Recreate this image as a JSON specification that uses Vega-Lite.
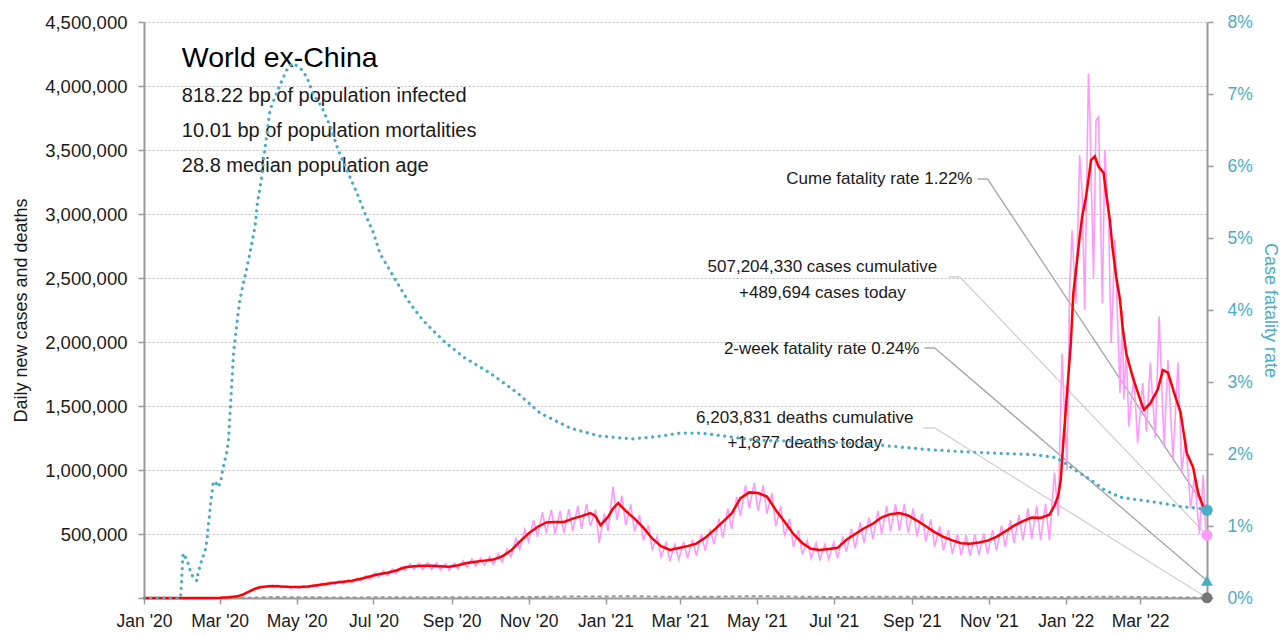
{
  "$schema": "https://vega.github.io/schema/vega-lite/v6.json",
  "width": 1063,
  "height": 576,
  "autosize": {"type": "none"},
  "padding": {"left": 144, "top": 22, "right": 79, "bottom": 39},
  "background": "white",
  "config": {
    "view": {"stroke": null},
    "font": "Liberation Sans",
    "axis": {
      "labelFont": "Liberation Sans",
      "titleFont": "Liberation Sans",
      "labelFontSize": 17.5,
      "titleFontSize": 18,
      "titleFontWeight": "normal",
      "domainColor": "#9a9a9a",
      "domainWidth": 2,
      "tickColor": "#9a9a9a",
      "tickWidth": 1.5,
      "tickSize": 6,
      "labelColor": "#1a1a1a",
      "titleColor": "#1a1a1a"
    }
  },
  "datasets": {
    "pink": [
      {"d":"2020-01-22","v":0},{"d":"2020-02-27","v":600},{"d":"2020-03-01","v":1500},{"d":"2020-03-05","v":3000},
      {"d":"2020-03-08","v":4000},{"d":"2020-03-12","v":10000},{"d":"2020-03-15","v":12000},{"d":"2020-03-19","v":28000},
      {"d":"2020-03-22","v":38000},{"d":"2020-03-26","v":62000},{"d":"2020-03-29","v":68000},{"d":"2020-04-02","v":90000},
      {"d":"2020-04-05","v":80000},{"d":"2020-04-09","v":98000},{"d":"2020-04-12","v":84000},{"d":"2020-04-16","v":100000},
      {"d":"2020-04-19","v":80000},{"d":"2020-04-23","v":95000},{"d":"2020-04-26","v":78000},{"d":"2020-04-30","v":92000},
      {"d":"2020-05-03","v":76000},{"d":"2020-05-07","v":95000},{"d":"2020-05-10","v":80000},{"d":"2020-05-14","v":100000},
      {"d":"2020-05-17","v":88000},{"d":"2020-05-21","v":115000},{"d":"2020-05-24","v":98000},{"d":"2020-05-28","v":125000},
      {"d":"2020-05-31","v":106000},{"d":"2020-06-04","v":135000},{"d":"2020-06-07","v":112000},{"d":"2020-06-11","v":142000},
      {"d":"2020-06-14","v":120000},{"d":"2020-06-18","v":156000},{"d":"2020-06-21","v":133000},{"d":"2020-06-25","v":175000},
      {"d":"2020-06-28","v":148000},{"d":"2020-07-02","v":195000},{"d":"2020-07-05","v":163000},{"d":"2020-07-09","v":212000},
      {"d":"2020-07-12","v":175000},{"d":"2020-07-16","v":226000},{"d":"2020-07-19","v":192000},{"d":"2020-07-23","v":245000},
      {"d":"2020-07-26","v":214000},{"d":"2020-07-30","v":268000},{"d":"2020-08-02","v":222000},{"d":"2020-08-06","v":272000},
      {"d":"2020-08-09","v":222000},{"d":"2020-08-13","v":276000},{"d":"2020-08-16","v":222000},{"d":"2020-08-20","v":274000},
      {"d":"2020-08-23","v":220000},{"d":"2020-08-27","v":268000},{"d":"2020-08-30","v":215000},{"d":"2020-09-03","v":272000},
      {"d":"2020-09-06","v":226000},{"d":"2020-09-10","v":290000},{"d":"2020-09-13","v":240000},{"d":"2020-09-17","v":305000},
      {"d":"2020-09-20","v":250000},{"d":"2020-09-24","v":312000},{"d":"2020-09-27","v":256000},{"d":"2020-10-01","v":322000},
      {"d":"2020-10-04","v":262000},{"d":"2020-10-08","v":345000},{"d":"2020-10-11","v":282000},{"d":"2020-10-15","v":385000},
      {"d":"2020-10-18","v":320000},{"d":"2020-10-22","v":465000},{"d":"2020-10-25","v":380000},{"d":"2020-10-29","v":535000},
      {"d":"2020-11-01","v":440000},{"d":"2020-11-05","v":610000},{"d":"2020-11-08","v":480000},{"d":"2020-11-12","v":670000},
      {"d":"2020-11-15","v":505000},{"d":"2020-11-19","v":690000},{"d":"2020-11-22","v":500000},{"d":"2020-11-26","v":680000},
      {"d":"2020-11-29","v":505000},{"d":"2020-12-03","v":695000},{"d":"2020-12-06","v":520000},{"d":"2020-12-10","v":720000},
      {"d":"2020-12-13","v":540000},{"d":"2020-12-17","v":735000},{"d":"2020-12-20","v":560000},{"d":"2020-12-24","v":690000},
      {"d":"2020-12-27","v":430000},{"d":"2020-12-31","v":660000},{"d":"2021-01-03","v":520000},{"d":"2021-01-07","v":870000},
      {"d":"2021-01-10","v":610000},{"d":"2021-01-14","v":800000},{"d":"2021-01-17","v":570000},{"d":"2021-01-21","v":730000},
      {"d":"2021-01-24","v":520000},{"d":"2021-01-28","v":650000},{"d":"2021-01-31","v":450000},{"d":"2021-02-04","v":570000},
      {"d":"2021-02-07","v":380000},{"d":"2021-02-11","v":480000},{"d":"2021-02-14","v":320000},{"d":"2021-02-18","v":430000},
      {"d":"2021-02-21","v":290000},{"d":"2021-02-25","v":420000},{"d":"2021-02-28","v":300000},{"d":"2021-03-04","v":440000},
      {"d":"2021-03-07","v":310000},{"d":"2021-03-11","v":455000},{"d":"2021-03-14","v":330000},{"d":"2021-03-18","v":500000},
      {"d":"2021-03-21","v":370000},{"d":"2021-03-25","v":540000},{"d":"2021-03-28","v":420000},{"d":"2021-04-01","v":620000},
      {"d":"2021-04-04","v":470000},{"d":"2021-04-08","v":700000},{"d":"2021-04-11","v":540000},{"d":"2021-04-15","v":790000},
      {"d":"2021-04-18","v":640000},{"d":"2021-04-22","v":880000},{"d":"2021-04-25","v":700000},{"d":"2021-04-29","v":900000},
      {"d":"2021-05-02","v":680000},{"d":"2021-05-06","v":880000},{"d":"2021-05-09","v":660000},{"d":"2021-05-13","v":820000},
      {"d":"2021-05-16","v":560000},{"d":"2021-05-20","v":720000},{"d":"2021-05-23","v":480000},{"d":"2021-05-27","v":620000},
      {"d":"2021-05-30","v":400000},{"d":"2021-06-03","v":530000},{"d":"2021-06-06","v":340000},{"d":"2021-06-10","v":450000},
      {"d":"2021-06-13","v":310000},{"d":"2021-06-17","v":430000},{"d":"2021-06-20","v":300000},{"d":"2021-06-24","v":420000},
      {"d":"2021-06-27","v":305000},{"d":"2021-07-01","v":435000},{"d":"2021-07-04","v":310000},{"d":"2021-07-08","v":480000},
      {"d":"2021-07-11","v":360000},{"d":"2021-07-15","v":540000},{"d":"2021-07-18","v":390000},{"d":"2021-07-22","v":590000},
      {"d":"2021-07-25","v":430000},{"d":"2021-07-29","v":630000},{"d":"2021-08-01","v":460000},{"d":"2021-08-05","v":680000},
      {"d":"2021-08-08","v":500000},{"d":"2021-08-12","v":720000},{"d":"2021-08-15","v":520000},{"d":"2021-08-19","v":735000},
      {"d":"2021-08-22","v":525000},{"d":"2021-08-26","v":735000},{"d":"2021-08-29","v":510000},{"d":"2021-09-02","v":700000},
      {"d":"2021-09-05","v":480000},{"d":"2021-09-09","v":660000},{"d":"2021-09-12","v":440000},{"d":"2021-09-16","v":615000},
      {"d":"2021-09-19","v":400000},{"d":"2021-09-23","v":560000},{"d":"2021-09-26","v":370000},{"d":"2021-09-30","v":530000},
      {"d":"2021-10-03","v":345000},{"d":"2021-10-07","v":500000},{"d":"2021-10-10","v":335000},{"d":"2021-10-14","v":490000},
      {"d":"2021-10-17","v":330000},{"d":"2021-10-21","v":495000},{"d":"2021-10-24","v":335000},{"d":"2021-10-28","v":505000},
      {"d":"2021-10-31","v":345000},{"d":"2021-11-04","v":530000},{"d":"2021-11-07","v":370000},{"d":"2021-11-11","v":565000},
      {"d":"2021-11-14","v":400000},{"d":"2021-11-18","v":610000},{"d":"2021-11-21","v":430000},{"d":"2021-11-25","v":650000},
      {"d":"2021-11-28","v":450000},{"d":"2021-12-02","v":700000},{"d":"2021-12-05","v":460000},{"d":"2021-12-09","v":720000},
      {"d":"2021-12-12","v":450000},{"d":"2021-12-16","v":735000},{"d":"2021-12-19","v":450000},{"d":"2021-12-23","v":980000},
      {"d":"2021-12-26","v":640000},{"d":"2021-12-29","v":1910000},{"d":"2022-01-02","v":1000000},{"d":"2022-01-04","v":2400000},
      {"d":"2022-01-06","v":2870000},{"d":"2022-01-09","v":2300000},{"d":"2022-01-12","v":3460000},{"d":"2022-01-14","v":3160000},
      {"d":"2022-01-16","v":2250000},{"d":"2022-01-19","v":4100000},{"d":"2022-01-20","v":3800000},{"d":"2022-01-23","v":2500000},
      {"d":"2022-01-25","v":3730000},{"d":"2022-01-27","v":3760000},{"d":"2022-01-30","v":2300000},{"d":"2022-02-01","v":3500000},
      {"d":"2022-02-04","v":2930000},{"d":"2022-02-06","v":1990000},{"d":"2022-02-09","v":2800000},{"d":"2022-02-13","v":1600000},
      {"d":"2022-02-15","v":2250000},{"d":"2022-02-16","v":1550000},{"d":"2022-02-18","v":1940000},{"d":"2022-02-20","v":1340000},
      {"d":"2022-02-24","v":1740000},{"d":"2022-02-27","v":1210000},{"d":"2022-03-03","v":1680000},{"d":"2022-03-06","v":1300000},
      {"d":"2022-03-09","v":1840000},{"d":"2022-03-13","v":1250000},{"d":"2022-03-16","v":2200000},{"d":"2022-03-20","v":1180000},
      {"d":"2022-03-23","v":1860000},{"d":"2022-03-27","v":1080000},{"d":"2022-03-31","v":1840000},{"d":"2022-04-03","v":980000},
      {"d":"2022-04-06","v":1250000},{"d":"2022-04-10","v":700000},{"d":"2022-04-13","v":950000},{"d":"2022-04-17","v":500000},
      {"d":"2022-04-20","v":960000},{"d":"2022-04-22","v":520000},{"d":"2022-04-23","v":489694}
    ],
    "red": [
      {"d":"2020-01-01","v":0},{"d":"2020-02-16","v":300},{"d":"2020-03-01","v":2000},{"d":"2020-03-08","v":5000},
      {"d":"2020-03-15","v":13000},{"d":"2020-03-19","v":25000},{"d":"2020-03-22","v":40000},{"d":"2020-03-26","v":58000},
      {"d":"2020-03-29","v":72000},{"d":"2020-04-02","v":84000},{"d":"2020-04-05","v":88000},{"d":"2020-04-12","v":94000},
      {"d":"2020-04-19","v":90000},{"d":"2020-04-26","v":86000},{"d":"2020-05-03","v":86000},{"d":"2020-05-10","v":90000},
      {"d":"2020-05-17","v":100000},{"d":"2020-05-24","v":110000},{"d":"2020-05-31","v":120000},{"d":"2020-06-07","v":127000},
      {"d":"2020-06-14","v":135000},{"d":"2020-06-21","v":150000},{"d":"2020-06-28","v":168000},{"d":"2020-07-05","v":185000},
      {"d":"2020-07-12","v":198000},{"d":"2020-07-19","v":215000},{"d":"2020-07-26","v":240000},{"d":"2020-08-02","v":248000},
      {"d":"2020-08-09","v":251000},{"d":"2020-08-16","v":252000},{"d":"2020-08-23","v":249000},{"d":"2020-08-30","v":245000},
      {"d":"2020-09-06","v":256000},{"d":"2020-09-13","v":273000},{"d":"2020-09-20","v":283000},{"d":"2020-09-27","v":292000},
      {"d":"2020-10-04","v":300000},{"d":"2020-10-11","v":325000},{"d":"2020-10-18","v":370000},{"d":"2020-10-25","v":440000},
      {"d":"2020-11-01","v":505000},{"d":"2020-11-08","v":555000},{"d":"2020-11-15","v":590000},{"d":"2020-11-22","v":594000},
      {"d":"2020-11-29","v":594000},{"d":"2020-12-06","v":620000},{"d":"2020-12-13","v":640000},{"d":"2020-12-20","v":664000},
      {"d":"2020-12-24","v":640000},{"d":"2020-12-28","v":570000},{"d":"2021-01-03","v":633000},{"d":"2021-01-07","v":700000},
      {"d":"2021-01-11","v":742000},{"d":"2021-01-17","v":680000},{"d":"2021-01-24","v":620000},{"d":"2021-01-31","v":550000},
      {"d":"2021-02-07","v":465000},{"d":"2021-02-14","v":405000},{"d":"2021-02-21","v":375000},{"d":"2021-02-28","v":391000},
      {"d":"2021-03-07","v":405000},{"d":"2021-03-14","v":425000},{"d":"2021-03-21","v":470000},{"d":"2021-03-28","v":530000},
      {"d":"2021-04-04","v":595000},{"d":"2021-04-11","v":660000},{"d":"2021-04-18","v":780000},{"d":"2021-04-25","v":825000},
      {"d":"2021-05-02","v":820000},{"d":"2021-05-09","v":792000},{"d":"2021-05-16","v":688000},{"d":"2021-05-23","v":595000},
      {"d":"2021-05-30","v":500000},{"d":"2021-06-06","v":430000},{"d":"2021-06-13","v":385000},{"d":"2021-06-20","v":375000},
      {"d":"2021-06-27","v":383000},{"d":"2021-07-04","v":392000},{"d":"2021-07-11","v":455000},{"d":"2021-07-18","v":500000},
      {"d":"2021-07-25","v":545000},{"d":"2021-08-01","v":580000},{"d":"2021-08-08","v":630000},{"d":"2021-08-15","v":655000},
      {"d":"2021-08-22","v":664000},{"d":"2021-08-29","v":645000},{"d":"2021-09-05","v":605000},{"d":"2021-09-12","v":560000},
      {"d":"2021-09-19","v":515000},{"d":"2021-09-26","v":478000},{"d":"2021-10-03","v":450000},{"d":"2021-10-10","v":428000},
      {"d":"2021-10-17","v":423000},{"d":"2021-10-24","v":434000},{"d":"2021-10-31","v":448000},{"d":"2021-11-07","v":478000},
      {"d":"2021-11-14","v":520000},{"d":"2021-11-21","v":565000},{"d":"2021-11-28","v":600000},{"d":"2021-12-05","v":628000},
      {"d":"2021-12-12","v":626000},{"d":"2021-12-19","v":650000},{"d":"2021-12-23","v":720000},{"d":"2021-12-26","v":800000},
      {"d":"2021-12-28","v":922000},{"d":"2021-12-30","v":1210000},{"d":"2022-01-02","v":1600000},{"d":"2022-01-05","v":1990000},
      {"d":"2022-01-07","v":2380000},{"d":"2022-01-10","v":2640000},{"d":"2022-01-12","v":2820000},{"d":"2022-01-14","v":2980000},
      {"d":"2022-01-17","v":3130000},{"d":"2022-01-19","v":3270000},{"d":"2022-01-21","v":3420000},{"d":"2022-01-24","v":3450000},
      {"d":"2022-01-27","v":3370000},{"d":"2022-01-31","v":3320000},{"d":"2022-02-02","v":3160000},{"d":"2022-02-05","v":2950000},
      {"d":"2022-02-07","v":2740000},{"d":"2022-02-10","v":2510000},{"d":"2022-02-13","v":2330000},{"d":"2022-02-15","v":2120000},
      {"d":"2022-02-18","v":1910000},{"d":"2022-02-23","v":1730000},{"d":"2022-03-01","v":1550000},{"d":"2022-03-04","v":1470000},
      {"d":"2022-03-09","v":1520000},{"d":"2022-03-15","v":1630000},{"d":"2022-03-19","v":1780000},{"d":"2022-03-23","v":1760000},
      {"d":"2022-03-28","v":1600000},{"d":"2022-04-02","v":1450000},{"d":"2022-04-07","v":1130000},{"d":"2022-04-12","v":1020000},
      {"d":"2022-04-16","v":820000},{"d":"2022-04-20","v":711000},{"d":"2022-04-23","v":700000}
    ],
    "deaths": [
      {"d":"2020-03-01","v":100},{"d":"2020-03-15","v":800},{"d":"2020-04-01","v":4500},{"d":"2020-04-15","v":7500},
      {"d":"2020-05-01","v":6000},{"d":"2020-06-01","v":4500},{"d":"2020-07-01","v":5000},{"d":"2020-08-01","v":5900},
      {"d":"2020-09-01","v":5600},{"d":"2020-10-01","v":5500},{"d":"2020-11-01","v":7500},{"d":"2020-12-01","v":11000},
      {"d":"2021-01-01","v":12000},{"d":"2021-01-25","v":14500},{"d":"2021-02-15","v":10000},{"d":"2021-03-15","v":9000},
      {"d":"2021-04-15","v":12500},{"d":"2021-05-10","v":13500},{"d":"2021-06-01","v":10500},{"d":"2021-07-01","v":7800},
      {"d":"2021-08-01","v":9000},{"d":"2021-08-25","v":10200},{"d":"2021-10-01","v":7500},{"d":"2021-11-01","v":7000},
      {"d":"2021-12-01","v":7000},{"d":"2022-01-01","v":6500},{"d":"2022-02-05","v":10500},{"d":"2022-03-01","v":7500},
      {"d":"2022-04-01","v":4000},{"d":"2022-04-23","v":1877}
    ],
    "cfr": [
      {"d":"2020-01-01","r":0},{"d":"2020-01-30","r":0},{"d":"2020-02-01","r":0.0062},{"d":"2020-02-04","r":0.0053},
      {"d":"2020-02-06","r":0.0043},{"d":"2020-02-07","r":0.0035},{"d":"2020-02-10","r":0.0026},{"d":"2020-02-12","r":0.0024},
      {"d":"2020-02-13","r":0.0037},{"d":"2020-02-15","r":0.0046},{"d":"2020-02-16","r":0.0056},{"d":"2020-02-18","r":0.0061},
      {"d":"2020-02-20","r":0.008},{"d":"2020-02-21","r":0.0101},{"d":"2020-02-22","r":0.0115},{"d":"2020-02-23","r":0.0136},
      {"d":"2020-02-24","r":0.0146},{"d":"2020-02-25","r":0.0162},{"d":"2020-02-27","r":0.016},{"d":"2020-02-29","r":0.0154},
      {"d":"2020-03-02","r":0.0164},{"d":"2020-03-03","r":0.0174},{"d":"2020-03-04","r":0.0183},{"d":"2020-03-06","r":0.0197},
      {"d":"2020-03-07","r":0.0205},{"d":"2020-03-08","r":0.0219},{"d":"2020-03-09","r":0.025},{"d":"2020-03-10","r":0.028},
      {"d":"2020-03-12","r":0.034},{"d":"2020-03-15","r":0.0386},{"d":"2020-03-17","r":0.0414},{"d":"2020-03-21","r":0.0446},
      {"d":"2020-03-25","r":0.0479},{"d":"2020-03-29","r":0.0515},{"d":"2020-03-31","r":0.0549},{"d":"2020-04-03","r":0.058},
      {"d":"2020-04-06","r":0.0626},{"d":"2020-04-10","r":0.0678},{"d":"2020-04-14","r":0.0696},{"d":"2020-04-18","r":0.0713},
      {"d":"2020-04-23","r":0.0733},{"d":"2020-04-28","r":0.0743},{"d":"2020-05-04","r":0.0736},{"d":"2020-05-09","r":0.0724},
      {"d":"2020-05-14","r":0.0701},{"d":"2020-05-21","r":0.0682},{"d":"2020-05-28","r":0.0654},{"d":"2020-06-03","r":0.0622},
      {"d":"2020-06-10","r":0.0594},{"d":"2020-06-18","r":0.0562},{"d":"2020-06-24","r":0.0535},{"d":"2020-07-01","r":0.0507},
      {"d":"2020-07-06","r":0.0479},{"d":"2020-07-17","r":0.0446},{"d":"2020-07-28","r":0.0414},{"d":"2020-08-09","r":0.0386},
      {"d":"2020-08-25","r":0.0358},{"d":"2020-09-10","r":0.0335},{"d":"2020-10-01","r":0.0313},{"d":"2020-10-23","r":0.0285},
      {"d":"2020-11-10","r":0.0257},{"d":"2020-12-04","r":0.0236},{"d":"2020-12-27","r":0.0225},{"d":"2021-01-22","r":0.0221},
      {"d":"2021-02-10","r":0.0224},{"d":"2021-03-01","r":0.0229},{"d":"2021-03-18","r":0.0229},{"d":"2021-04-09","r":0.0224},
      {"d":"2021-05-01","r":0.0219},{"d":"2021-06-01","r":0.0218},{"d":"2021-07-01","r":0.0216},{"d":"2021-07-27","r":0.0214},
      {"d":"2021-08-20","r":0.021},{"d":"2021-09-15","r":0.0206},{"d":"2021-10-13","r":0.0203},{"d":"2021-11-10","r":0.0201},
      {"d":"2021-12-08","r":0.0199},{"d":"2021-12-24","r":0.0195},{"d":"2021-12-30","r":0.0189},{"d":"2022-01-10","r":0.0176},
      {"d":"2022-01-21","r":0.0164},{"d":"2022-01-31","r":0.0151},{"d":"2022-02-13","r":0.014},{"d":"2022-03-01","r":0.0136},
      {"d":"2022-03-17","r":0.0132},{"d":"2022-04-02","r":0.0127},{"d":"2022-04-18","r":0.0124},{"d":"2022-04-23","r":0.0122}
    ]
  },
  "layer": [
    {
      "layer": [
        {
          "data": {"values": [
            {"g":"cume","d":"2021-10-23","v":3273438},{"g":"cume","d":"2021-10-31","v":3273438},{"g":"cume","d":"2022-04-23","v":686250},
            {"g":"wk","d":"2021-09-11","v":1953125},{"g":"wk","d":"2021-09-19","v":1953125},{"g":"wk","d":"2022-04-23","v":135000}
          ]},
          "mark": {"type": "line", "color": "#aaaaaa", "strokeWidth": 1.4},
          "encoding": {
            "x": {
              "field": "d", "type": "temporal",
              "scale": {"type": "utc", "nice": false,
                "domain": [{"year":2020,"month":1,"date":1,"utc":true},{"year":2022,"month":4,"date":23,"utc":true}]},
              "axis": {
                "title": null,
                "values": [
                  {"year":2020,"month":1,"date":1,"utc":true},{"year":2020,"month":3,"date":1,"utc":true},
                  {"year":2020,"month":5,"date":1,"utc":true},{"year":2020,"month":7,"date":1,"utc":true},
                  {"year":2020,"month":9,"date":1,"utc":true},{"year":2020,"month":11,"date":1,"utc":true},
                  {"year":2021,"month":1,"date":1,"utc":true},{"year":2021,"month":3,"date":1,"utc":true},
                  {"year":2021,"month":5,"date":1,"utc":true},{"year":2021,"month":7,"date":1,"utc":true},
                  {"year":2021,"month":9,"date":1,"utc":true},{"year":2021,"month":11,"date":1,"utc":true},
                  {"year":2022,"month":1,"date":1,"utc":true},{"year":2022,"month":3,"date":1,"utc":true}
                ],
                "labelExpr": "utcFormat(datum.value, \"%b '%y\")",
                "grid": false,
                "labelPadding": 8,
                "labelFlush": false,
                "labelOverlap": false
              }
            },
            "y": {
              "field": "v", "type": "quantitative",
              "scale": {"domain": [0, 4500000], "nice": false},
              "axis": {
                "title": "Daily new cases and deaths",
                "values": [0,500000,1000000,1500000,2000000,2500000,3000000,3500000,4000000,4500000],
                "labelExpr": "datum.value == 0 ? '' : format(datum.value, ',')",
                "labelFontSize": 18.5,
                "grid": true, "gridColor": "#bbbbbb", "gridDash": [2, 2], "gridWidth": 1,
                "labelPadding": 11, "titlePadding": 14
              }
            },
            "detail": {"field": "g"}
          }
        },
        {
          "data": {"values": [
            {"g":"cases","d":"2021-09-30","v":2507813},{"g":"cases","d":"2021-10-09","v":2507813},{"g":"cases","d":"2022-04-23","v":489694},
            {"g":"deaths","d":"2021-09-10","v":1328125},{"g":"deaths","d":"2021-09-19","v":1328125},{"g":"deaths","d":"2022-04-23","v":1877}
          ]},
          "mark": {"type": "line", "color": "#d3d3d3", "strokeWidth": 1.4},
          "encoding": {
            "x": {"field": "d", "type": "temporal"},
            "y": {"field": "v", "type": "quantitative"},
            "detail": {"field": "g"}
          }
        },
        {
          "data": {"name": "deaths"},
          "mark": {"type": "line", "color": "#999999", "strokeWidth": 2, "strokeDash": [4, 3]},
          "encoding": {
            "x": {"field": "d", "type": "temporal"},
            "y": {"field": "v", "type": "quantitative"}
          }
        },
        {
          "data": {"name": "pink"},
          "mark": {"type": "line", "color": "#ff99ff", "strokeWidth": 1.6},
          "encoding": {
            "x": {"field": "d", "type": "temporal"},
            "y": {"field": "v", "type": "quantitative"}
          }
        },
        {
          "data": {"name": "red"},
          "mark": {"type": "line", "color": "#ff0000", "strokeWidth": 2.5},
          "encoding": {
            "x": {"field": "d", "type": "temporal"},
            "y": {"field": "v", "type": "quantitative"}
          }
        },
        {
          "data": {"values": [{"d":"2022-04-23","v":489694}]},
          "mark": {"type": "point", "filled": true, "size": 120, "color": "#ff99ff", "opacity": 1},
          "encoding": {
            "x": {"field": "d", "type": "temporal"},
            "y": {"field": "v", "type": "quantitative"}
          }
        },
        {
          "data": {"values": [{"d":"2022-04-23","v":1877}]},
          "mark": {"type": "point", "filled": true, "size": 120, "color": "#777777", "opacity": 1},
          "encoding": {
            "x": {"field": "d", "type": "temporal"},
            "y": {"field": "v", "type": "quantitative"}
          }
        },
        {
          "data": {"values": [
            {"d":"2021-10-19","v":3273438,"t":"Cume fatality rate 1.22%"},
            {"d":"2021-09-07","v":1945313,"t":"2-week fatality rate 0.24%"}
          ]},
          "mark": {"type": "text", "align": "right", "baseline": "middle", "fontSize": 17, "font": "Liberation Sans", "color": "#1a1a1a"},
          "encoding": {
            "x": {"field": "d", "type": "temporal"},
            "y": {"field": "v", "type": "quantitative"},
            "text": {"field": "t"}
          }
        },
        {
          "data": {"values": [
            {"d":"2021-06-22","v":2585938,"t":"507,204,330 cases cumulative"},
            {"d":"2021-06-22","v":2382813,"t":"+489,694 cases today"},
            {"d":"2021-06-08","v":1406250,"t":"6,203,831 deaths cumulative"},
            {"d":"2021-06-08","v":1210938,"t":"+1,877 deaths today"}
          ]},
          "mark": {"type": "text", "align": "center", "baseline": "middle", "fontSize": 17, "font": "Liberation Sans", "color": "#1a1a1a"},
          "encoding": {
            "x": {"field": "d", "type": "temporal"},
            "y": {"field": "v", "type": "quantitative"},
            "text": {"field": "t"}
          }
        },
        {
          "data": {"values": [
            {"d":"2020-01-31","v":3875000,"t":"818.22 bp of population infected"},
            {"d":"2020-01-31","v":3603906,"t":"10.01 bp of population mortalities"},
            {"d":"2020-01-31","v":3330729,"t":"28.8 median population age"}
          ]},
          "mark": {"type": "text", "align": "left", "baseline": "alphabetic", "fontSize": 20, "font": "Liberation Sans", "color": "#1a1a1a"},
          "encoding": {
            "x": {"field": "d", "type": "temporal"},
            "y": {"field": "v", "type": "quantitative"},
            "text": {"field": "t"}
          }
        },
        {
          "data": {"values": [
            {"d":"2020-01-31","v":4150781,"t":"World ex-China"}
          ]},
          "mark": {"type": "text", "align": "left", "baseline": "alphabetic", "fontSize": 28.5, "font": "Liberation Sans", "color": "#000000"},
          "encoding": {
            "x": {"field": "d", "type": "temporal"},
            "y": {"field": "v", "type": "quantitative"},
            "text": {"field": "t"}
          }
        }
      ]
    },
    {
      "layer": [
        {
          "data": {"name": "cfr"},
          "mark": {"type": "line", "color": "#4bacc6", "strokeWidth": 3.2, "strokeCap": "round", "strokeDash": [0.1, 6.5]},
          "encoding": {
            "x": {"field": "d", "type": "temporal"},
            "y": {
              "field": "r", "type": "quantitative",
              "scale": {"domain": [0, 0.08], "nice": false},
              "axis": {
                "title": "Case fatality rate",
                "orient": "right",
                "values": [0, 0.01, 0.02, 0.03, 0.04, 0.05, 0.06, 0.07, 0.08],
                "format": ".0%",
                "labelColor": "#4bacc6",
                "titleColor": "#4bacc6",
                "grid": false,
                "labelPadding": 14,
                "titlePadding": 8
              }
            }
          }
        },
        {
          "data": {"values": [{"d":"2022-04-23","r":0.0122}]},
          "mark": {"type": "point", "filled": true, "size": 130, "color": "#4bacc6", "opacity": 1},
          "encoding": {
            "x": {"field": "d", "type": "temporal"},
            "y": {"field": "r", "type": "quantitative"}
          }
        },
        {
          "data": {"values": [{"d":"2022-04-23","r":0.0024}]},
          "mark": {"type": "point", "filled": true, "shape": "triangle-up", "size": 140, "color": "#4bacc6", "opacity": 1},
          "encoding": {
            "x": {"field": "d", "type": "temporal"},
            "y": {"field": "r", "type": "quantitative"}
          }
        }
      ]
    }
  ],
  "resolve": {"scale": {"y": "independent"}}
}
